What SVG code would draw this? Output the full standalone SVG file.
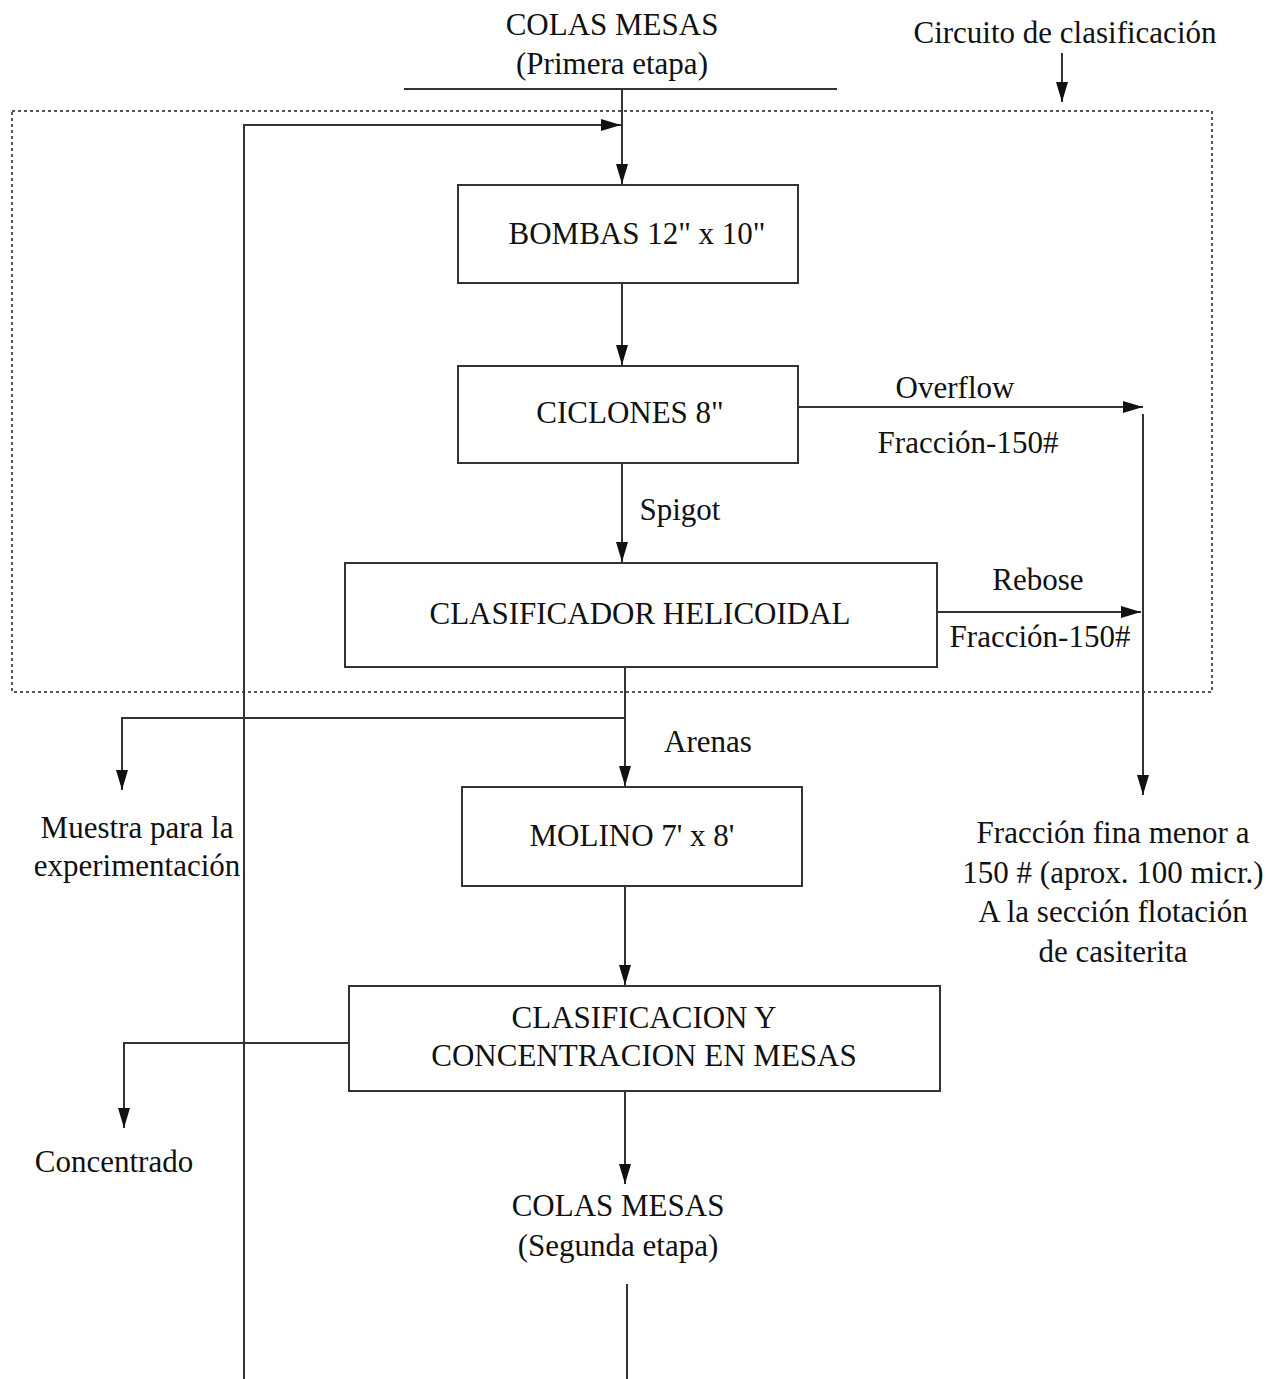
<svg xmlns="http://www.w3.org/2000/svg" width="1280" height="1379" viewBox="0 0 1280 1379">
<style>
text{font-family:"Liberation Serif","DejaVu Serif","Times New Roman",serif;font-size:31px;fill:#111;text-anchor:middle}
.box{fill:#fff;stroke:#333;stroke-width:2}
.ln{fill:none;stroke:#333;stroke-width:2}
.dot{fill:none;stroke:#555;stroke-width:2;stroke-dasharray:3 3}
</style>
<defs>
<marker id="ah" viewBox="0 0 20 14" refX="20" refY="7" markerWidth="20" markerHeight="14" markerUnits="userSpaceOnUse" orient="auto">
<path d="M0,1 L20,7 L0,13 z" fill="#111"/>
</marker>
</defs>
<rect width="1280" height="1379" fill="#fff"/>
<rect class="dot" x="12" y="111" width="1200" height="581"/>
<g id="labels" font-family="Liberation Serif, DejaVu Serif, serif">
<text x="612" y="35">COLAS MESAS</text>
<text x="612" y="74">(Primera etapa)</text>
<text x="1065" y="43">Circuito de clasificación</text>
<text x="955" y="398">Overflow</text>
<text x="968" y="453">Fracción-150#</text>
<text x="680" y="520">Spigot</text>
<text x="1038" y="590">Rebose</text>
<text x="1040" y="647">Fracción-150#</text>
<text x="708" y="752">Arenas</text>
<text x="137" y="838">Muestra para la</text>
<text x="137" y="876">experimentación</text>
<text x="1113" y="843">Fracción fina menor a</text>
<text x="1113" y="883">150 # (aprox. 100 micr.)</text>
<text x="1113" y="922">A la sección flotación</text>
<text x="1113" y="962">de casiterita</text>
<text x="114" y="1172">Concentrado</text>
<text x="618" y="1216">COLAS MESAS</text>
<text x="618" y="1256">(Segunda etapa)</text>
</g>
<g id="connectors">
<line class="ln" x1="404" y1="89" x2="837" y2="89"/>
<line class="ln" x1="622" y1="89" x2="622" y2="184" marker-end="url(#ah)"/>
<polyline class="ln" points="244,1379 244,125 621,125" marker-end="url(#ah)"/>
<line class="ln" x1="1062" y1="53" x2="1062" y2="102" marker-end="url(#ah)"/>
<line class="ln" x1="622" y1="283" x2="622" y2="365" marker-end="url(#ah)"/>
<line class="ln" x1="798" y1="407" x2="1143" y2="407" marker-end="url(#ah)"/>
<line class="ln" x1="1143" y1="414" x2="1143" y2="795" marker-end="url(#ah)"/>
<line class="ln" x1="622" y1="463" x2="622" y2="562" marker-end="url(#ah)"/>
<line class="ln" x1="937" y1="612" x2="1141" y2="612" marker-end="url(#ah)"/>
<line class="ln" x1="625" y1="667" x2="625" y2="786" marker-end="url(#ah)"/>
<polyline class="ln" points="625,718 122,718 122,790" marker-end="url(#ah)"/>
<line class="ln" x1="625" y1="886" x2="625" y2="985" marker-end="url(#ah)"/>
<polyline class="ln" points="349,1043 124,1043 124,1128" marker-end="url(#ah)"/>
<line class="ln" x1="625" y1="1091" x2="625" y2="1184" marker-end="url(#ah)"/>
<line class="ln" x1="627" y1="1284" x2="627" y2="1379"/>
</g>
<g id="bombas">
<rect class="box" x="458" y="185" width="340" height="98"/>
<text x="637" y="244">BOMBAS 12" x 10"</text>
</g>
<g id="ciclones">
<rect class="box" x="458" y="366" width="340" height="97"/>
<text x="630" y="423">CICLONES 8"</text>
</g>
<g id="clasificador">
<rect class="box" x="345" y="563" width="592" height="104"/>
<text x="640" y="624">CLASIFICADOR HELICOIDAL</text>
</g>
<g id="molino">
<rect class="box" x="462" y="787" width="340" height="99"/>
<text x="632" y="846">MOLINO 7' x 8'</text>
</g>
<g id="clasificacion">
<rect class="box" x="349" y="986" width="591" height="105"/>
<text x="644" y="1028">CLASIFICACION Y</text>
<text x="644" y="1066">CONCENTRACION EN MESAS</text>
</g>
</svg>
